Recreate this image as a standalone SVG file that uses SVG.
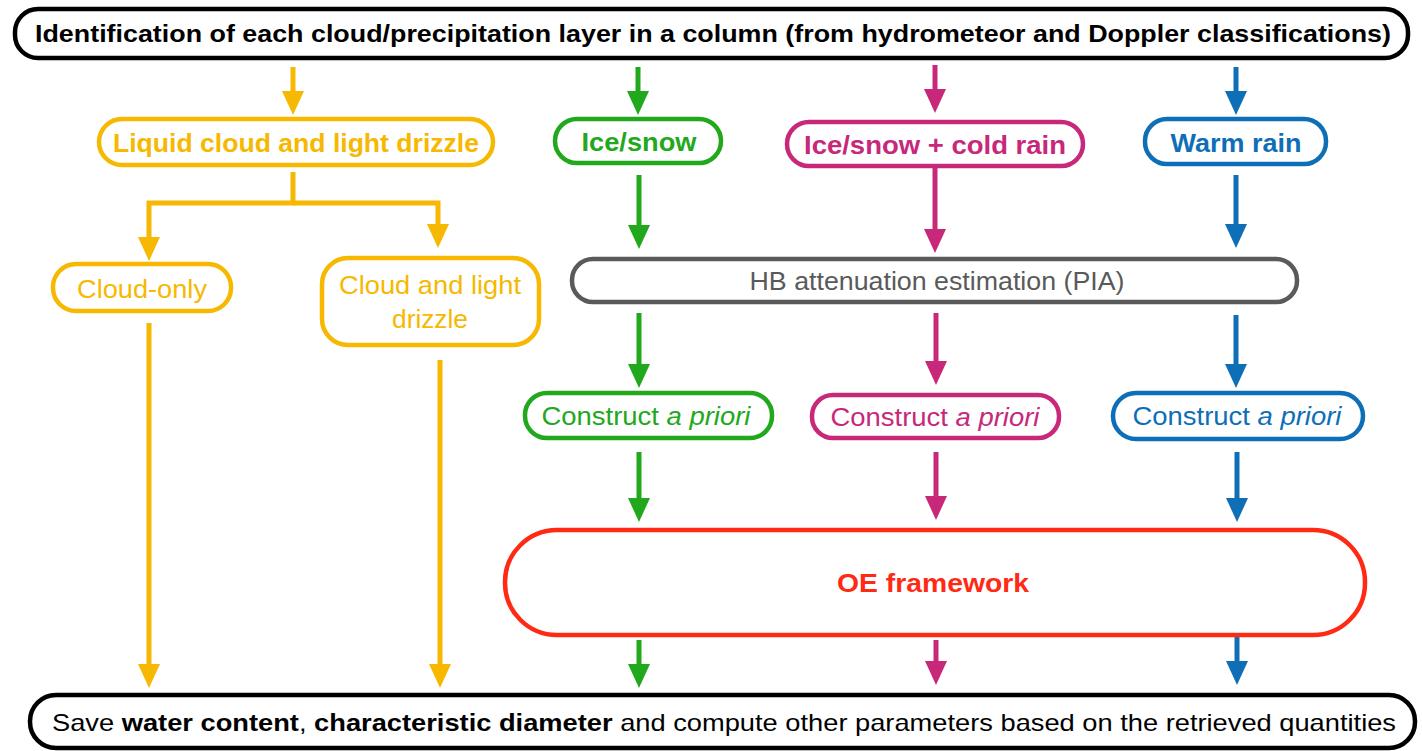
<svg xmlns="http://www.w3.org/2000/svg" width="1422" height="751" viewBox="0 0 1422 751">
<style>
text{font-family:"Liberation Sans",Arial,sans-serif;text-anchor:middle}
.b{font-weight:bold}
.box{fill:#fff;stroke-width:4.5}
.ln{fill:none;stroke-width:5}
.or{stroke:#F6B800}.orf{fill:#F6B800}
.gr{stroke:#22A81C}.grf{fill:#22A81C}
.pk{stroke:#C8287A}.pkf{fill:#C8287A}
.bl{stroke:#0E6FB7}.blf{fill:#0E6FB7}
.rd{stroke:#FF2A14}.rdf{fill:#FF2A14}
</style>
<defs>
<marker id="aO" markerUnits="userSpaceOnUse" markerWidth="24" markerHeight="24" viewBox="0 0 24 22" refX="12" refY="11" orient="auto"><path d="M0,0 L24,11 L0,22 z" fill="#F6B800"/></marker>
<marker id="aG" markerUnits="userSpaceOnUse" markerWidth="24" markerHeight="24" viewBox="0 0 24 22" refX="12" refY="11" orient="auto"><path d="M0,0 L24,11 L0,22 z" fill="#22A81C"/></marker>
<marker id="aP" markerUnits="userSpaceOnUse" markerWidth="24" markerHeight="24" viewBox="0 0 24 22" refX="12" refY="11" orient="auto"><path d="M0,0 L24,11 L0,22 z" fill="#C8287A"/></marker>
<marker id="aB" markerUnits="userSpaceOnUse" markerWidth="24" markerHeight="24" viewBox="0 0 24 22" refX="12" refY="11" orient="auto"><path d="M0,0 L24,11 L0,22 z" fill="#0E6FB7"/></marker>
</defs>

<g id="connectors">
<path class="ln or" d="M293,67 V103" marker-end="url(#aO)"/>
<path class="ln gr" d="M638,67 V103" marker-end="url(#aG)"/>
<path class="ln pk" d="M935,65 V101" marker-end="url(#aP)"/>
<path class="ln bl" d="M1236,67 V103" marker-end="url(#aB)"/>

<path class="ln or" d="M293,172 V203 H149 V249" marker-end="url(#aO)"/>
<path class="ln or" d="M293,203 H438 V236" marker-end="url(#aO)"/>
<path class="ln or" d="M149,323 V676" marker-end="url(#aO)"/>
<path class="ln or" d="M440,360 V676" marker-end="url(#aO)"/>

<path class="ln gr" d="M639,175 V237" marker-end="url(#aG)"/>
<path class="ln pk" d="M935,168 V241" marker-end="url(#aP)"/>
<path class="ln bl" d="M1236,175 V236" marker-end="url(#aB)"/>

<path class="ln gr" d="M639,313 V376" marker-end="url(#aG)"/>
<path class="ln pk" d="M936,313 V373" marker-end="url(#aP)"/>
<path class="ln bl" d="M1236,315 V376" marker-end="url(#aB)"/>

<path class="ln gr" d="M639,452 V510" marker-end="url(#aG)"/>
<path class="ln pk" d="M936,452 V508" marker-end="url(#aP)"/>
<path class="ln bl" d="M1237,452 V510" marker-end="url(#aB)"/>

<path class="ln gr" d="M639,640 V676" marker-end="url(#aG)"/>
<path class="ln pk" d="M936,640 V673" marker-end="url(#aP)"/>
<path class="ln bl" d="M1237,637 V673" marker-end="url(#aB)"/>
</g>

<g id="top">
<rect class="box" x="15" y="9" width="1393" height="49" rx="23" stroke="#000" stroke-width="5"/>
<text class="b" x="713" y="42" font-size="24" textLength="1356" lengthAdjust="spacingAndGlyphs" fill="#000">Identification of each cloud/precipitation layer in a column (from hydrometeor and Doppler classifications)</text>
</g>

<g id="liquid">
<rect class="box or" x="99" y="119" width="394" height="46" rx="23"/>
<text class="b orf" x="296" y="152" font-size="26" textLength="366" lengthAdjust="spacingAndGlyphs">Liquid cloud and light drizzle</text>
</g>

<g id="icesnow">
<rect class="box gr" x="555" y="119" width="166" height="44" rx="22"/>
<text class="b grf" x="639" y="151" font-size="26" textLength="115" lengthAdjust="spacingAndGlyphs">Ice/snow</text>
</g>

<g id="icesnowcold">
<rect class="box pk" x="787" y="122" width="296" height="44" rx="22"/>
<text class="b pkf" x="935" y="154" font-size="26" textLength="262" lengthAdjust="spacingAndGlyphs">Ice/snow + cold rain</text>
</g>

<g id="warmrain">
<rect class="box bl" x="1145" y="119" width="181" height="45" rx="22"/>
<text class="b blf" x="1236" y="152" font-size="26" textLength="131" lengthAdjust="spacingAndGlyphs">Warm rain</text>
</g>

<g id="cloudonly">
<rect class="box or" x="53" y="264" width="178" height="47" rx="23"/>
<text class="orf" x="142" y="298" font-size="26" textLength="130" lengthAdjust="spacingAndGlyphs">Cloud-only</text>
</g>

<g id="clouddrizzle">
<rect class="box or" x="322" y="258" width="217" height="87" rx="26"/>
<text class="orf" x="430" y="294" font-size="26" textLength="182" lengthAdjust="spacingAndGlyphs">Cloud and light</text>
<text class="orf" x="430" y="328" font-size="26" textLength="76" lengthAdjust="spacingAndGlyphs">drizzle</text>
</g>

<g id="hb">
<rect class="box" x="572" y="259" width="725" height="43" rx="21" stroke="#5a5a5a"/>
<text x="937" y="290" font-size="25" fill="#5a5a5a" textLength="375" lengthAdjust="spacingAndGlyphs">HB attenuation estimation (PIA)</text>
</g>

<g id="apriori-green">
<rect class="box gr" x="525" y="393" width="247" height="45" rx="22"/>
<text class="grf" x="646" y="425" font-size="26" textLength="209" lengthAdjust="spacingAndGlyphs">Construct <tspan font-style="italic">a priori</tspan></text>
</g>

<g id="apriori-pink">
<rect class="box pk" x="812" y="395" width="247" height="43" rx="21"/>
<text class="pkf" x="935" y="426" font-size="26" textLength="209" lengthAdjust="spacingAndGlyphs">Construct <tspan font-style="italic">a priori</tspan></text>
</g>

<g id="apriori-blue">
<rect class="box bl" x="1113" y="393" width="250" height="46" rx="23"/>
<text class="blf" x="1237" y="425" font-size="26" textLength="209" lengthAdjust="spacingAndGlyphs">Construct <tspan font-style="italic">a priori</tspan></text>
</g>

<g id="oe">
<rect class="box rd" x="505" y="530" width="860" height="105" rx="52" stroke-width="5"/>
<text class="b rdf" x="933" y="592" font-size="26" textLength="192" lengthAdjust="spacingAndGlyphs">OE framework</text>
</g>

<g id="bottom">
<rect class="box" x="30" y="695" width="1385" height="53" rx="26" stroke="#000" stroke-width="5"/>
<text x="724" y="731" font-size="24" fill="#000" textLength="1344" lengthAdjust="spacingAndGlyphs">Save <tspan font-weight="bold">water content</tspan>, <tspan font-weight="bold">characteristic diameter</tspan> and compute other parameters based on the retrieved quantities</text>
</g>
</svg>
